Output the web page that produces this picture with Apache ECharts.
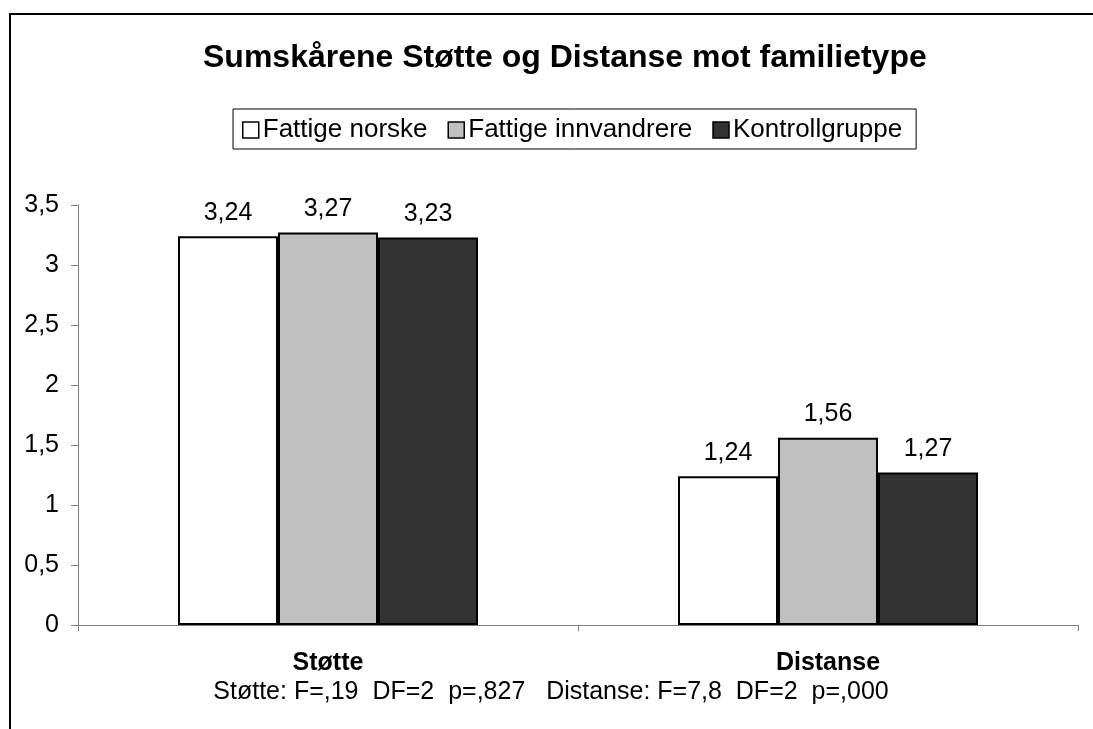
<!DOCTYPE html>
<html>
<head>
<meta charset="UTF-8">
<script src="https://cdn.jsdelivr.net/npm/echarts@6/dist/echarts.min.js"></script>
<title>Sumskårene Støtte og Distanse mot familietype</title>
<style type="text/css">
body{
	padding:0;
	margin:0;
	background:#fff;
}
#chart{
	width:1093px;
	height:729px;
}
</style>
</head>
<body>
<div id="chart"></div>
<script type="text/javascript">
// data
var categories = ['Støtte', 'Distanse'];
var seriesNames = ['Fattige norske', 'Fattige innvandrere', 'Kontrollgruppe'];
var norske = [3.24, 1.24];
var innvandrere = [3.27, 1.56];
var kontroll = [3.23, 1.27];
var yTicks = ['0', '0,5', '1', '1,5', '2', '2,5', '3', '3,5'];
var footnote = 'Støtte: F=,19  DF=2  p=,827   Distanse: F=7,8  DF=2  p=,000';

var colors = ['#ffffff', '#c0c0c0', '#333333'];
var font = 'Liberation Sans, Arial, sans-serif';

function komma(v) {
	return String(v).replace('.', ',');
}

var myChart = echarts.init(document.getElementById('chart'));

var values = [norske, innvandrere, kontroll];
var series = [];
for (var i = 0; i < seriesNames.length; i++) {
	series.push({
		name: seriesNames[i],
		type: 'bar',
		data: values[i],
		barGap: 0,
		barCategoryGap: '40%',
		itemStyle: {color: colors[i], borderColor: '#000', borderWidth: 2},
		label: {
			show: true,
			position: 'top',
			distance: 11,
			color: '#000',
			fontSize: 25,
			fontFamily: font,
			formatter: function (p) { return komma(p.value); }
		}
	});
}

var option = {
	animation: false,
	backgroundColor: '#fff',
	title: {
		text: 'Sumskårene Støtte og Distanse mot familietype',
		left: 198,
		top: 37,
		textStyle: {fontSize: 32, fontWeight: 'bold', color: '#000', fontFamily: font}
	},
	legend: {
		data: seriesNames,
		left: 233,
		top: 109,
		padding: [8, 14, 6, 9],
		itemGap: 20,
		itemWidth: 16,
		itemHeight: 16,
		borderColor: '#000',
		borderWidth: 1,
		icon: 'rect',
		itemStyle: {borderWidth: 1.5, borderColor: '#000'},
		textStyle: {fontSize: 26, color: '#000', fontFamily: font, padding: [0, 0, 0, -1]}
	},
	grid: {left: 78, right: 15, top: 205, bottom: 104},
	xAxis: {
		type: 'category',
		data: categories,
		axisLine: {lineStyle: {color: '#808080', width: 1}},
		axisTick: {show: true, length: 6, inside: false, lineStyle: {color: '#808080'}},
		axisLabel: {fontSize: 25, fontWeight: 'bold', color: '#000', fontFamily: font, margin: 26}
	},
	yAxis: {
		type: 'value',
		min: 0,
		max: 3.5,
		interval: 0.5,
		axisLine: {show: true, lineStyle: {color: '#808080', width: 1}},
		axisTick: {show: true, length: 7, lineStyle: {color: '#808080'}},
		splitLine: {show: false},
		axisLabel: {
			fontSize: 25, color: '#000', fontFamily: font, margin: 19,
			formatter: function (v) { return yTicks[Math.round(v * 2)]; }
		}
	},
	graphic: [
		{
			type: 'rect',
			shape: {x: 10, y: 14, width: 1200, height: 900},
			style: {fill: 'none', stroke: '#000', lineWidth: 2},
			silent: true
		},
		{
			type: 'text',
			x: 551,
			y: 692,
			style: {text: footnote, fontSize: 25, fill: '#000', fontFamily: font, align: 'center', verticalAlign: 'middle'},
			silent: true
		}
	],
	series: series
};

myChart.setOption(option);
</script>
</body>
</html>
